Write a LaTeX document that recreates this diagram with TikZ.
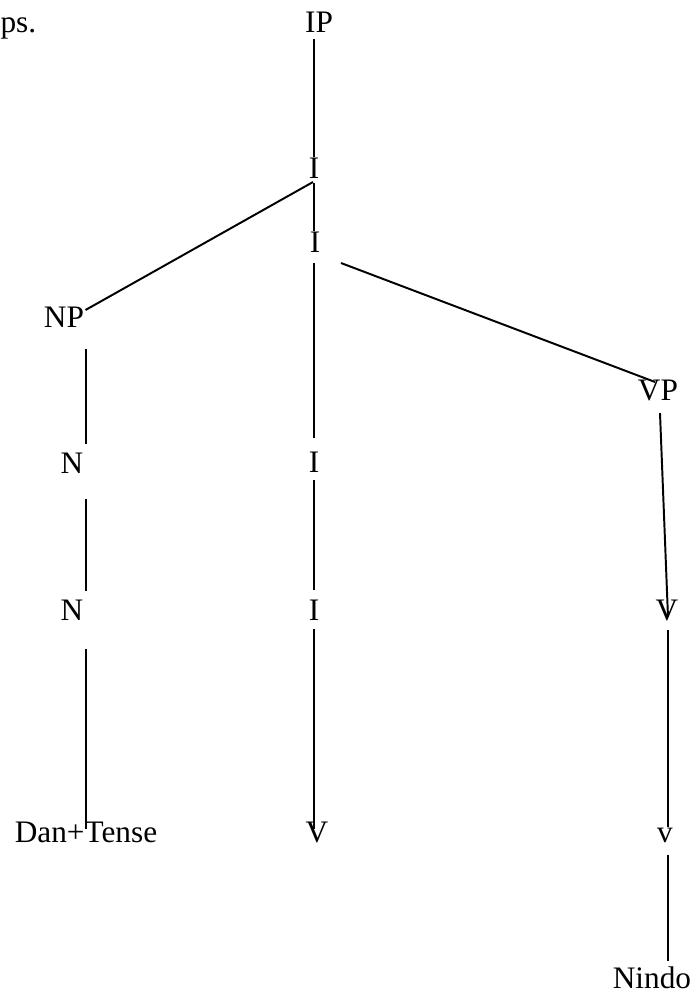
\documentclass[tikz,border=0pt]{standalone}
\usepackage{fontspec}
\setmainfont{Liberation Serif}
\usetikzlibrary{calc}
\tikzset{
  treelabel/.style={inner sep=0pt,anchor=base,font=\fontsize{12}{14}\selectfont},
  treeedge/.style={line width=0.75pt,black}
}

\begin{document}
\begin{tikzpicture}[x=0.3834pt,y=-0.3834pt]
    \useasboundingbox (0,0) rectangle (697,995);

    % labels
    \node[treelabel,anchor=base west] (ps) at (0,32) {ps.};
    \node[treelabel] (ip) at (319,32) {IP};
    \node[treelabel] (i1) at (314,178) {I};
    \node[treelabel] (i2) at (315,252) {I};
    \node[treelabel] (np) at (64,327) {NP};
    \node[treelabel] (vp) at (658,400) {VP};
    \node[treelabel] (n1) at (72,473) {N};
    \node[treelabel] (i3) at (314,472) {I};
    \node[treelabel] (n2) at (72,620) {N};
    \node[treelabel] (i4) at (314,620) {I};
    \node[treelabel] (vr) at (667,620) {V};
    \node[treelabel] (dan) at (86,842) {Dan+Tense};
    \node[treelabel] (vm) at (317,842) {V};
    \node[treelabel] (vs) at (665,842) {v};
    \node[treelabel] (nindo) at (652,988) {Nindo};

    % free ends of the branches
    \coordinate (ipdown) at (314,39);
    \coordinate (i1down) at (314,183);
    \coordinate (i1left) at (313,182);
    \coordinate (i2down) at (314,263);
    \coordinate (i2right) at (341,263);
    \coordinate (vpdown) at (660,413);
    \coordinate (vrdown) at (668,630);
    \coordinate (vsdown) at (668,855);
    \coordinate (npdown) at (86,349);
    \coordinate (n1down) at (86,499);
    \coordinate (n2end) at (86,591);
    \coordinate (n2down) at (86,649);
    \coordinate (i3down) at (314,480);
    \coordinate (i4end) at (314,590);
    \coordinate (i4down) at (314,629);

    % branches
    \draw[treeedge] (ipdown) -- (ipdown |- i1.north);
    \draw[treeedge] (i1down) -- (i1down |- i2.north);
    \draw[treeedge] (i1left) -- ([shift={(1,4)}]np.north east);
    \draw[treeedge] (i2right) -- ([shift={(-3,3)}]vp.north);
    \draw[treeedge] (vpdown) -- ([shift={(1,-3)}]vr.base);
    \draw[treeedge] (vrdown) -- (vrdown |- vs.north);
    \draw[treeedge] (vsdown) -- ([yshift=2]vsdown |- nindo.north);
    \draw[treeedge] (npdown) -- ([yshift=3]npdown |- n1.north);
    \draw[treeedge] (n1down) -- (n2end);
    \draw[treeedge] (n2down) -- ([yshift=-3]n2down |- dan.north);
    \draw[treeedge] (i2down) -- ([yshift=5]i2down |- i3.north);
    \draw[treeedge] (i3down) -- (i4end);
    \draw[treeedge] (i4down) -- ([yshift=-3]i4down |- vm.north);
  \end{tikzpicture}
\end{document}
